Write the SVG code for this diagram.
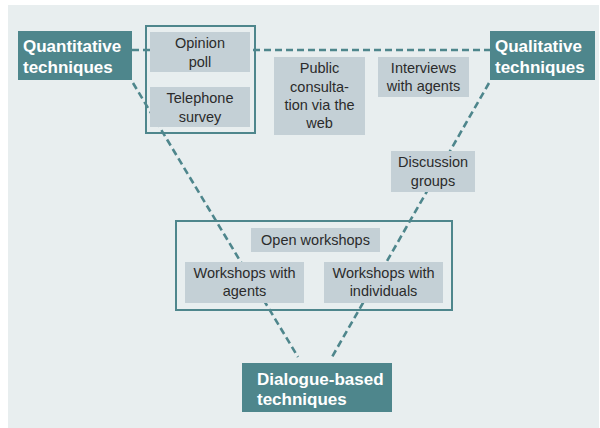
<svg xmlns="http://www.w3.org/2000/svg" width="600" height="428" viewBox="0 0 600 428">
<style>
.bg{fill:#e8eeef}
.teal{fill:#4e868c}
.grey{fill:#c4d0d6}
.frame{fill:none;stroke:#4e868c;stroke-width:2}
.dash{fill:none;stroke:#4e868c;stroke-width:2.6;stroke-dasharray:7 4}
.hd{font-family:"Liberation Sans",Arial,sans-serif;font-weight:bold;font-size:17px;fill:#ffffff}
.t{font-family:"Liberation Sans",Arial,sans-serif;font-size:14.5px;fill:#2b2b2b;text-anchor:middle}
</style>
<rect x="0" y="0" width="600" height="428" fill="#ffffff"/>
<rect class="bg" x="8" y="5" width="591" height="423"/>
<g id="connectors">
<line class="dash" x1="132" y1="50" x2="490" y2="50"/>
<line class="dash" x1="133" y1="83" x2="298" y2="357"/>
<line class="dash" x1="489" y1="83" x2="332" y2="357"/>
</g>
<g id="quantitative">
<rect class="teal" x="18" y="31" width="114" height="49"/>
<text class="hd" x="23" y="52">Quantitative</text>
<text class="hd" x="23" y="73">techniques</text>
</g>
<g id="qualitative">
<rect class="teal" x="490" y="31" width="105" height="49"/>
<text class="hd" x="495" y="52">Qualitative</text>
<text class="hd" x="495" y="73">techniques</text>
</g>
<g id="dialogue">
<rect class="teal" x="242" y="363" width="150" height="49"/>
<text class="hd" x="257" y="385">Dialogue-based</text>
<text class="hd" x="257" y="405">techniques</text>
</g>
<g id="quant-frame">
<rect class="frame" x="146" y="26" width="109" height="107"/>
</g>
<g id="opinion-poll">
<rect class="grey" x="150" y="32" width="100" height="40"/>
<text class="t" x="200" y="48">Opinion</text>
<text class="t" x="200" y="67">poll</text>
</g>
<g id="telephone-survey">
<rect class="grey" x="150" y="87" width="100" height="40"/>
<text class="t" x="200" y="103">Telephone</text>
<text class="t" x="200" y="122">survey</text>
</g>
<g id="public-consultation">
<rect class="grey" x="274" y="57" width="91" height="78"/>
<text class="t" x="319.5" y="73">Public</text>
<text class="t" x="319.5" y="91.5">consulta-</text>
<text class="t" x="319.5" y="109.5">tion via the</text>
<text class="t" x="319.5" y="127.5">web</text>
</g>
<g id="interviews">
<rect class="grey" x="378" y="57" width="91" height="40"/>
<text class="t" x="423.5" y="73">Interviews</text>
<text class="t" x="423.5" y="91">with agents</text>
</g>
<g id="discussion-groups">
<rect class="grey" x="391" y="151" width="84" height="41"/>
<text class="t" x="433" y="167">Discussion</text>
<text class="t" x="433" y="186">groups</text>
</g>
<g id="workshops-frame">
<rect class="frame" x="176" y="221" width="276" height="89"/>
</g>
<g id="open-workshops">
<rect class="grey" x="251" y="228" width="129" height="24"/>
<text class="t" x="315.5" y="245">Open workshops</text>
</g>
<g id="workshops-agents">
<rect class="grey" x="185" y="262" width="119" height="41"/>
<text class="t" x="244.5" y="278">Workshops with</text>
<text class="t" x="244.5" y="296">agents</text>
</g>
<g id="workshops-individuals">
<rect class="grey" x="324" y="262" width="119" height="41"/>
<text class="t" x="383.5" y="278">Workshops with</text>
<text class="t" x="383.5" y="296">individuals</text>
</g>
</svg>
